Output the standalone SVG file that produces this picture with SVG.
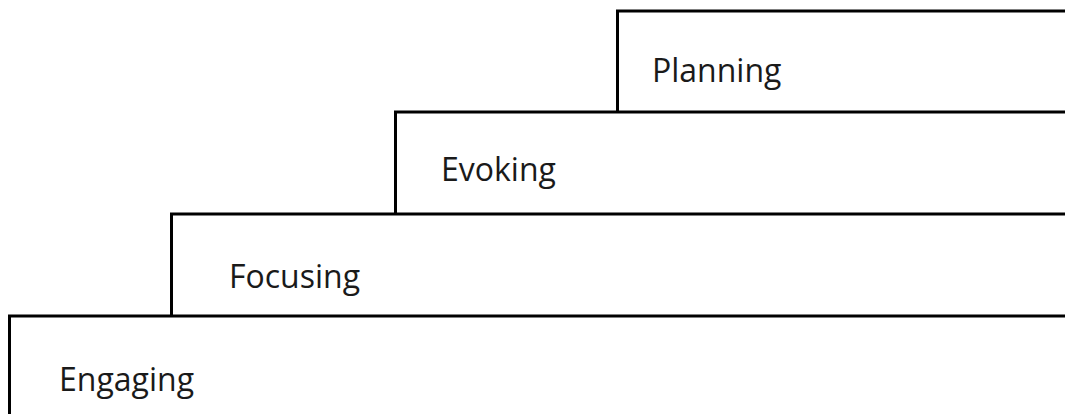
<svg xmlns="http://www.w3.org/2000/svg" width="1065" height="414" viewBox="0 0 1065 414">
<style>
.step{fill:none;stroke:#000;stroke-width:3}
.lbl{font-family:"Open Sans","Liberation Sans",sans-serif;font-size:32px;fill:#1a1a1a}
</style>
<rect width="1065" height="414" fill="#fff"/>
<g id="engaging"><path class="step" d="M1065 316 H9.5 V414"/><text class="lbl" x="59" y="391">Engaging</text></g>
<g id="focusing"><path class="step" d="M1065 214 H171.5 V316"/><text class="lbl" x="229" y="288">Focusing</text></g>
<g id="evoking"><path class="step" d="M1065 112 H395.5 V214"/><text class="lbl" x="441" y="181">Evoking</text></g>
<g id="planning"><path class="step" d="M1065 11 H617.5 V112"/><text class="lbl" x="652" y="82">Planning</text></g>
<g id="connectors"/>
</svg>
